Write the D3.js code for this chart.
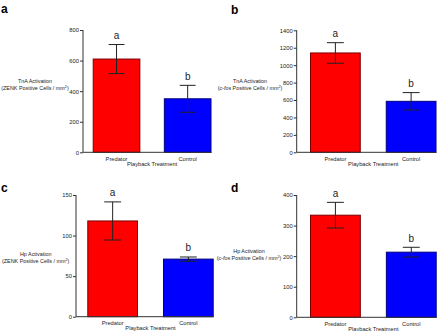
<!DOCTYPE html>
<html><head><meta charset="utf-8">
<script src="https://cdn.jsdelivr.net/npm/d3@7/dist/d3.min.js"></script>
<style>
html,body{margin:0;padding:0;background:#fff;}
svg{display:block;font-family:"Liberation Sans",Arial,sans-serif;}
</style></head>
<body>
<svg id="chart" width="448" height="331"></svg>
<script>
// ---- data ----
const categories = ["Predator", "Control"];
const letters = ["a", "b"];
const tnaZenkMean = [610, 350];
const tnaZenkSE = [95, 88];
const tnaCfosMean = [1140, 585];
const tnaCfosSE = [118, 100];
const hpZenkMean = [118, 71];
const hpZenkSE = [23.5, 2.6];
const hpCfosMean = [334, 213];
const hpCfosSE = [42, 16];
const ticksA = [0, 200, 400, 600, 800];
const ticksB = [0, 200, 400, 600, 800, 1000, 1200, 1400];
const ticksC = [0, 50, 100, 150];
const ticksD = [0, 100, 200, 300, 400];
const xTitle = "Playback Treatment";

// ---- layout ----
const panels = [
  {id:"a", mean:tnaZenkMean, se:tnaZenkSE, ticks:ticksA, region:"TnA", marker:"ZENK", italic:false,
   ax:83, x0:92.7, x1:211.5, top:30, bottom:152.3, lx:1, ly:13, ylx:35, yly:83},
  {id:"b", mean:tnaCfosMean, se:tnaCfosSE, ticks:ticksB, region:"TnA", marker:"c-fos", italic:true,
   ax:296.7, x0:310, x1:436.5, top:30.3, bottom:152.3, lx:231, ly:13.5, ylx:250, yly:83},
  {id:"c", mean:hpZenkMean, se:hpZenkSE, ticks:ticksC, region:"Hp", marker:"ZENK", italic:false,
   ax:76, x0:87.3, x1:213.7, top:195, bottom:316.7, lx:1, ly:191.7, ylx:35.7, yly:256},
  {id:"d", mean:hpCfosMean, se:hpCfosSE, ticks:ticksD, region:"Hp", marker:"c-fos", italic:true,
   ax:296.7, x0:310, x1:436.7, top:195, bottom:317.3, lx:231, ly:191.7, ylx:249, yly:252.5}
];
const fills = ["#ff0000", "#0000ff"];
const strokes = ["#7a0000", "#00007a"];
const axisColor = "#333";
const textColor = "#222";

const svg = d3.select("#chart");

panels.forEach(p => {
  const g = svg.append("g");
  const y = d3.scaleLinear().domain([0, d3.max(p.ticks)]).range([p.bottom, p.top]);
  const x = d3.scaleBand().domain(categories).range([p.x0, p.x1]).paddingInner(0.33).paddingOuter(0);
  const data = categories.map((c, i) => ({c, m:p.mean[i], se:p.se[i], i}));

  // bars
  g.selectAll("rect.bar").data(data).join("rect")
    .attr("x", d => x(d.c) + 0.5)
    .attr("y", d => y(d.m))
    .attr("width", x.bandwidth() - 1)
    .attr("height", d => y(0) - y(d.m))
    .attr("fill", d => fills[d.i])
    .attr("stroke", d => strokes[d.i])
    .attr("stroke-width", 1);

  // error bars
  const capW = x.bandwidth() / 3;
  data.forEach(d => {
    const cx = x(d.c) + x.bandwidth() / 2;
    const yt = y(d.m + d.se), yb = y(d.m - d.se);
    g.append("line").attr("x1", cx).attr("x2", cx).attr("y1", yt).attr("y2", yb)
      .attr("stroke", "#222").attr("stroke-width", 1);
    [yt, yb].forEach(yy => g.append("line").attr("x1", cx - capW/2).attr("x2", cx + capW/2)
      .attr("y1", yy).attr("y2", yy).attr("stroke", "#222").attr("stroke-width", 1));
    g.append("text").attr("x", cx).attr("y", yt - 5.5)
      .attr("text-anchor", "middle").attr("font-size", 10).attr("fill", textColor)
      .text(letters[d.i]);
  });

  // y axis
  const yAxis = d3.axisLeft(y).tickValues(p.ticks).tickSize(3).tickPadding(1).tickFormat(d3.format("d"));
  const ya = g.append("g").attr("transform", `translate(${p.ax},0)`).call(yAxis);
  ya.select(".domain").attr("stroke", axisColor).attr("d", `M0,${p.top}V${p.bottom}`);
  ya.selectAll(".tick line").attr("stroke", axisColor);
  ya.selectAll(".tick text").attr("font-size", 5.8).attr("fill", textColor)
    .attr("font-family", "Liberation Sans, Arial, sans-serif");

  // x axis
  const xAxis = d3.axisBottom(x).tickSize(0).tickPadding(4.5);
  const xa = g.append("g").attr("transform", `translate(0,${p.bottom})`).call(xAxis);
  xa.select(".domain").attr("stroke", axisColor).attr("d", `M${p.ax},0H${p.x1}`);
  xa.selectAll(".tick text").attr("font-size", 5.7).attr("fill", textColor)
    .attr("font-family", "Liberation Sans, Arial, sans-serif");

  // x title
  g.append("text")
    .attr("x", (x(categories[0]) + x(categories[1]) + x.bandwidth()) / 2)
    .attr("y", p.bottom + 13.5)
    .attr("text-anchor", "middle").attr("font-size", 5.7).attr("fill", textColor)
    .text(xTitle);

  // y title (two lines, horizontal)
  const yt = g.append("text").attr("text-anchor", "middle").attr("font-size", 5.4).attr("fill", textColor);
  yt.append("tspan").attr("x", p.ylx).attr("y", p.yly).text(p.region + " Activation");
  const l2 = yt.append("tspan").attr("x", p.ylx).attr("y", p.yly + 7.2);
  l2.append("tspan").text("(");
  l2.append("tspan").attr("font-style", p.italic ? "italic" : "normal").text(p.marker);
  l2.append("tspan").text(" Positive Cells / mm");
  l2.append("tspan").attr("font-size", 3.8).attr("dy", -2).text("2");
  l2.append("tspan").attr("dy", 2).text(")");

  // panel letter
  svg.append("text").attr("x", p.lx).attr("y", p.ly)
    .attr("font-size", 12).attr("font-weight", "bold").attr("fill", "#000")
    .text(p.id);
});
</script>
</body></html>
